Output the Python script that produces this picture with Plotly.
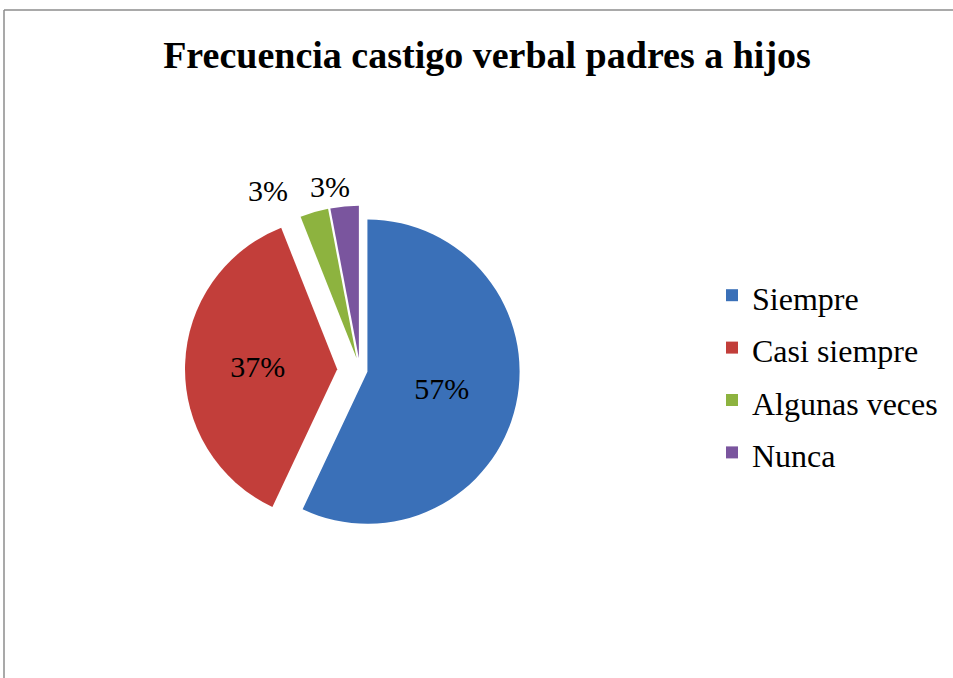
import plotly.graph_objects as go

categories = ["Siempre", "Casi siempre", "Algunas veces", "Nunca"]
values = [57, 37, 3, 3]
colors = ["#3A70B8", "#C23E3A", "#8DB33F", "#7A559E"]
title_text = "Frecuencia castigo verbal padres a hijos"

W, H = 953, 678

legend_labels = ['<span style="font-size:32px">' + c + '</span>' for c in categories]
total = sum(values)
pct_text = [f"{round(100 * v / total)}%" for v in values]

fig = go.Figure(go.Pie(
    labels=legend_labels,
    values=values,
    sort=False,
    direction="clockwise",
    rotation=0,
    pull=[0.05, 0.15, 0.08, 0.08],
    marker=dict(colors=colors, line=dict(color="white", width=0)),
    text=[pct_text[0], pct_text[1], "", ""],
    texttemplate="%{text}",
    textposition=["inside", "inside", "none", "none"],
    textfont=dict(family="Liberation Serif", size=30, color="black"),
    insidetextorientation="horizontal",
    domain=dict(x=[160 / W, 560 / W], y=[1 - 545 / H, 1 - 195 / H]),
    hoverinfo="label+percent",
    showlegend=True,
))

# labels of the two thin slices, placed above them as in the original
for txt, (px, py) in zip(pct_text[2:], [(268, 190), (330, 187)]):
    fig.add_annotation(text=txt, x=px / W, y=1 - py / H, xref="paper", yref="paper",
                       showarrow=False, xanchor="center", yanchor="middle",
                       font=dict(family="Liberation Serif", size=30, color="black"))

fig.update_layout(
    width=W, height=H,
    margin=dict(l=0, r=0, t=0, b=0),
    paper_bgcolor="white",
    font=dict(family="Liberation Serif", color="black"),
    title=dict(text="<b>" + title_text + "</b>", x=487 / W, xanchor="center",
               y=1 - 55 / H, yanchor="middle",
               font=dict(family="Liberation Serif", size=38, color="black")),
    legend=dict(x=712 / W, y=1 - 264 / H, xanchor="left", yanchor="top",
                font=dict(family="Liberation Serif", size=38, color="black"),
                itemwidth=30),
    shapes=[
        dict(type="line", xref="paper", yref="paper", x0=4 / W, x1=1.01,
             y0=1 - 10 / H, y1=1 - 10 / H, line=dict(color="#8c8c8c", width=1.5)),
        dict(type="line", xref="paper", yref="paper", x0=4 / W, x1=4 / W,
             y0=1 - 10 / H, y1=-0.01, line=dict(color="#8c8c8c", width=1.5)),
    ],
)

fig.write_html("out.html", config={"displayModeBar": False},
               post_script="document.body.style.margin='0';document.body.style.overflow='hidden';")
